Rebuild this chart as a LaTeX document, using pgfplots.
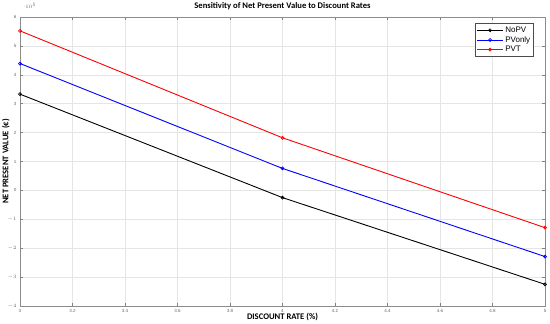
\documentclass[border=0pt]{standalone}
\usepackage{fontspec}
\setmainfont{Liberation Sans}
\newfontfamily\carlito{Carlito}
\usepackage{pgfplots}
\pgfplotsset{compat=1.18}
\begin{document}
\begin{tikzpicture}
\path[use as bounding box] (-20pt,-18pt) rectangle (530pt,306pt);
\begin{axis}[
  at={(0pt,0pt)}, anchor=south west,
  scale only axis, width=525pt, height=289pt,
  xmin=3, xmax=5, ymin=-400000, ymax=600000,
  xtick={3,3.2,...,5.01},
  xticklabels={3,3.2,3.4,3.6,3.8,4,4.2,4.4,4.6,4.8,5},
  ytick={-400000,-300000,...,600000},
  scaled y ticks=base 10:-5,
  yticklabels={$-4$,$-3$,$-2$,$-1$,0,1,2,3,4,5,6},
  /pgf/number format/assume math mode=true,
  tick label style={font=\fontsize{4.5}{5}\selectfont, color=black!60},
  tick align=inside, major tick length=3pt,
  tick style={color=black!50, line width=0.4pt},
  axis line style={color=black!45, line width=0.5pt},
  grid=major, grid style={color=black!10, line width=0.4pt},
  title={\carlito\bfseries Sensitivity of Net Present Value to Discount Rates},
  title style={font=\fontsize{8.6}{9}\selectfont, yshift=-2.5pt},
  xlabel={\carlito\bfseries DISCOUNT RATE (\%)},
  ylabel={\carlito\bfseries NET PRESENT VALUE (€)},
  label style={font=\fontsize{8.6}{9}\selectfont},
  xlabel style={yshift=6pt},
  ylabel style={yshift=-9pt},
  legend style={font=\fontsize{8}{9}\selectfont, draw=black!70, line width=0.5pt, inner sep=1.5pt, row sep=-1.5pt, at={(0.979,0.979)}, anchor=north east},
  legend cell align=left,
  legend image code/.code={\draw[mark repeat=2,mark phase=2] plot coordinates {(0cm,0cm)(0.45cm,0cm)(0.9cm,0cm)};},
  every axis plot/.append style={line width=0.9pt, mark=o, mark size=1.5pt, mark options={line width=0.7pt}},
]
\addplot[black] coordinates {(3,333000) (4,-25000) (5,-325000)};
\addlegendentry{NoPV}
\addplot[blue] coordinates {(3,439000) (4,76000) (5,-229000)};
\addlegendentry{PVonly}
\addplot[red] coordinates {(3,552000) (4,182000) (5,-129000)};
\addlegendentry{PVT}
\node[anchor=south west, inner sep=0.5pt, font=\fontsize{3.5}{4}\selectfont, color=black!60] at (rel axis cs:0,1) {$\times10^{5}$};
\end{axis}
\end{tikzpicture}
\end{document}
